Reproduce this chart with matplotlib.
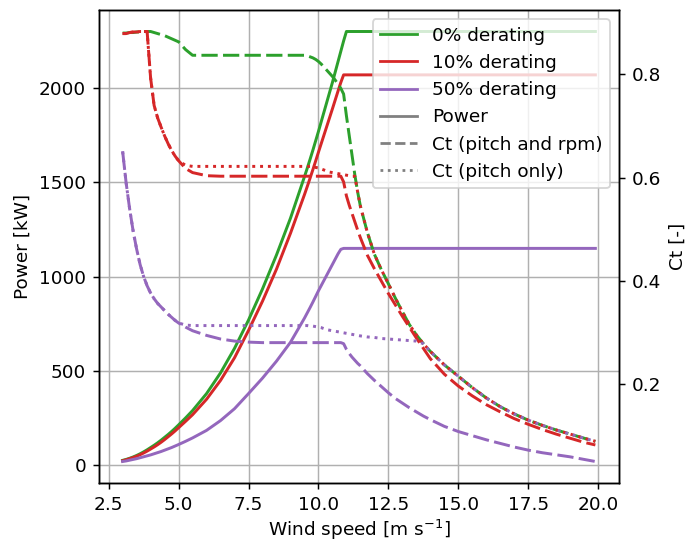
import matplotlib
matplotlib.use("Agg")
import matplotlib.pyplot as plt
from matplotlib.lines import Line2D

wind_speed = [3.0, 3.125, 3.25, 3.375, 3.5, 3.625, 3.75, 3.875, 4.0, 4.125, 4.25, 4.375, 4.5,
              4.625, 4.75, 4.875, 5.0, 5.25, 5.5, 6.0, 6.5, 7.0, 7.5, 8.0, 8.5, 9.0, 9.5,
              9.6, 9.7, 9.8, 9.9, 10.0, 10.1, 10.2, 10.3, 10.4, 10.5, 10.6, 10.7, 10.8, 10.9,
              11.0, 11.1, 11.2, 11.3, 11.4, 11.5, 11.75, 12.0, 12.25, 12.5, 12.75, 13.0, 13.25,
              13.5, 13.75, 14.0, 14.5, 15.0, 15.5, 16.0, 16.5, 17.0, 17.5, 18.0, 18.5, 19.0,
              19.5, 19.9]

power_0 = [26, 31, 37, 44, 52, 61, 71, 82, 94, 106, 119, 133, 148,
           163, 179, 196, 214, 251, 290, 380, 490, 620, 770, 935, 1115, 1310, 1530,
           1575, 1622, 1670, 1720, 1770, 1822, 1874, 1926, 1978, 2030, 2085, 2140, 2195, 2250,
           2300, 2300, 2300, 2300, 2300, 2300, 2300, 2300, 2300, 2300, 2300, 2300, 2300,
           2300, 2300, 2300, 2300, 2300, 2300, 2300, 2300, 2300, 2300, 2300, 2300, 2300,
           2300, 2300]
power_10 = [24, 29, 35, 41, 48, 56, 65, 75, 86, 97, 109, 122, 136,
            151, 166, 182, 199, 233, 268, 350, 450, 570, 715, 870, 1040, 1230, 1435,
            1478, 1522, 1567, 1613, 1660, 1706, 1752, 1798, 1844, 1890, 1937, 1984, 2030, 2070,
            2070, 2070, 2070, 2070, 2070, 2070, 2070, 2070, 2070, 2070, 2070, 2070, 2070,
            2070, 2070, 2070, 2070, 2070, 2070, 2070, 2070, 2070, 2070, 2070, 2070, 2070,
            2070, 2070]
power_50 = [20, 23, 27, 31, 35, 40, 45, 50, 55, 61, 67, 73, 80,
            87, 94, 102, 110, 127, 145, 185, 237, 300, 380, 462, 552, 652, 780,
            808, 836, 865, 895, 925, 953, 981, 1009, 1037, 1065, 1093, 1121, 1145, 1150,
            1150, 1150, 1150, 1150, 1150, 1150, 1150, 1150, 1150, 1150, 1150, 1150, 1150,
            1150, 1150, 1150, 1150, 1150, 1150, 1150, 1150, 1150, 1150, 1150, 1150, 1150,
            1150, 1150]

ct_0 = [0.880, 0.880, 0.881, 0.881, 0.882, 0.882, 0.883, 0.883, 0.883, 0.881, 0.879, 0.877, 0.875,
        0.872, 0.869, 0.866, 0.863, 0.848, 0.837, 0.837, 0.837, 0.837, 0.837, 0.837, 0.837, 0.837, 0.837,
        0.836, 0.834, 0.832, 0.829, 0.825, 0.820, 0.814, 0.808, 0.802, 0.796, 0.789, 0.781, 0.773, 0.762,
        0.720, 0.682, 0.644, 0.606, 0.573, 0.545, 0.494, 0.452, 0.422, 0.395, 0.367, 0.341, 0.316,
        0.296, 0.279, 0.264, 0.238, 0.216, 0.194, 0.174, 0.157, 0.143, 0.131, 0.121, 0.112, 0.104,
        0.096, 0.090]
ct_10 = [0.879, 0.879, 0.881, 0.882, 0.882, 0.883, 0.883, 0.883, 0.793, 0.740, 0.716, 0.698, 0.681,
         0.666, 0.653, 0.642, 0.633, 0.618, 0.610, 0.604, 0.603, 0.603, 0.603, 0.603, 0.603, 0.603, 0.603,
         0.603, 0.603, 0.603, 0.603, 0.603, 0.603, 0.603, 0.603, 0.603, 0.603, 0.603, 0.603, 0.603, 0.592,
         0.565, 0.547, 0.531, 0.515, 0.499, 0.484, 0.450, 0.424, 0.400, 0.376, 0.354, 0.332, 0.311,
         0.290, 0.270, 0.250, 0.220, 0.197, 0.178, 0.161, 0.147, 0.134, 0.123, 0.113, 0.104, 0.096,
         0.088, 0.083]
ct_10_pitch = [0.879, 0.879, 0.881, 0.882, 0.882, 0.883, 0.883, 0.883, 0.793, 0.740, 0.716, 0.698, 0.681,
               0.666, 0.653, 0.642, 0.633, 0.624, 0.622, 0.622, 0.622, 0.622, 0.622, 0.622, 0.622, 0.622, 0.622,
               0.622, 0.622, 0.621, 0.620, 0.619, 0.617, 0.615, 0.613, 0.611, 0.610, 0.609, 0.608, 0.607, 0.606,
               0.605, 0.604, 0.603, 0.603, 0.573, 0.545, 0.494, 0.452, 0.422, 0.395, 0.367, 0.341, 0.316,
               0.296, 0.279, 0.264, 0.238, 0.216, 0.194, 0.174, 0.157, 0.143, 0.131, 0.121, 0.112, 0.104,
               0.096, 0.090]
ct_50 = [0.651, 0.590, 0.540, 0.497, 0.462, 0.432, 0.409, 0.391, 0.377, 0.366, 0.357, 0.350, 0.343,
         0.336, 0.330, 0.324, 0.319, 0.311, 0.304, 0.295, 0.288, 0.284, 0.282, 0.281, 0.281, 0.281, 0.281,
         0.281, 0.281, 0.281, 0.281, 0.281, 0.281, 0.281, 0.281, 0.281, 0.281, 0.281, 0.281, 0.281, 0.279,
         0.268, 0.260, 0.253, 0.247, 0.241, 0.236, 0.221, 0.208, 0.196, 0.184, 0.173, 0.164, 0.155,
         0.147, 0.139, 0.132, 0.119, 0.109, 0.101, 0.093, 0.086, 0.079, 0.073, 0.068, 0.064, 0.060,
         0.055, 0.051]
ct_50_pitch = [0.651, 0.590, 0.540, 0.497, 0.462, 0.432, 0.409, 0.391, 0.377, 0.366, 0.357, 0.350, 0.343,
               0.336, 0.330, 0.324, 0.319, 0.315, 0.314, 0.314, 0.314, 0.314, 0.314, 0.314, 0.314, 0.314, 0.314,
               0.314, 0.313, 0.313, 0.312, 0.311, 0.310, 0.308, 0.306, 0.305, 0.304, 0.303, 0.302, 0.301, 0.300,
               0.299, 0.298, 0.297, 0.296, 0.295, 0.294, 0.292, 0.291, 0.289, 0.288, 0.287, 0.286, 0.285,
               0.284, 0.279, 0.264, 0.238, 0.216, 0.194, 0.174, 0.157, 0.143, 0.131, 0.121, 0.112, 0.104,
               0.096, 0.090]

labels = ["0% derating", "10% derating", "50% derating"]
colors = ["#2ca02c", "#d62728", "#9467bd"]

DPI = 133
LW = 1.6
DASH = (0, (5.5, 1.8))
fig = plt.figure(figsize=(689 / DPI, 542 / DPI), dpi=DPI)
ax1 = fig.add_axes([99 / 689, 1 - 483 / 542, 520 / 689, 473 / 542])
ax2 = ax1.twinx()

for p, c in zip([power_0, power_10, power_50], colors):
    ax1.plot(wind_speed, p, color=c, lw=LW)

ax2.plot(wind_speed, ct_0, color=colors[0], ls=DASH, lw=LW)
ax2.plot(wind_speed, ct_10, color=colors[1], ls=DASH, lw=LW)
ax2.plot(wind_speed, ct_10_pitch, color=colors[1], ls=":", lw=LW)
ax2.plot(wind_speed, ct_50, color=colors[2], ls=DASH, lw=LW)
ax2.plot(wind_speed, ct_50_pitch, color=colors[2], ls=":", lw=LW)

ax1.grid(True)
ax1.set_xlabel("Wind speed [m s$^{-1}$]", labelpad=2)
ax1.set_ylabel("Power [kW]")
ax2.set_ylabel("Ct [-]")

handles = [Line2D([], [], color=c, lw=1.5, label=l) for c, l in zip(colors, labels)]
handles += [Line2D([], [], color="grey", lw=1.5, ls="-", label="Power"),
            Line2D([], [], color="grey", lw=1.5, ls="--", label="Ct (pitch and rpm)"),
            Line2D([], [], color="grey", lw=1.5, ls=":", label="Ct (pitch only)")]
ax2.legend(handles=handles, loc="upper right")

fig.savefig("out.png", dpi=DPI)
